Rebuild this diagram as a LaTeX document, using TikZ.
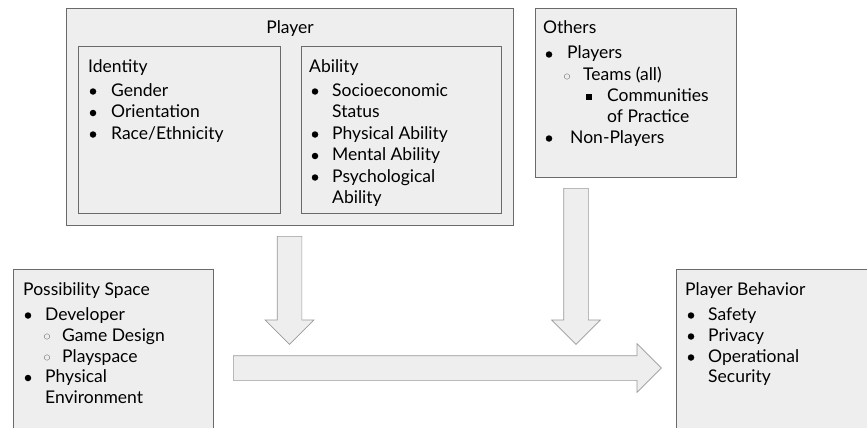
\documentclass[tikz,border=0pt]{standalone}
\usepackage{fontspec}
\setmainfont{Lato}
\usetikzlibrary{shapes.arrows}
\definecolor{boxfill}{HTML}{EEEEEE}
\definecolor{boxline}{HTML}{6A6A6A}
\definecolor{arrowline}{HTML}{999999}
\tikzstyle{panel}=[rectangle, draw=boxline, fill=boxfill, line width=0.8pt, anchor=north west, inner sep=0pt]
\tikzstyle{txt}=[anchor=base west, inner sep=0pt, font=\fontsize{17.5}{21}\selectfont]
\tikzstyle{dot}=[circle, fill=black, inner sep=0pt, minimum size=6.5pt]
\tikzstyle{ring}=[circle, draw=black!55, thin, inner sep=0pt, minimum size=5.5pt]
\tikzstyle{sq}=[rectangle, fill=black, inner sep=0pt, minimum size=6.5pt]
\tikzstyle{blockarrow}=[single arrow, draw=arrowline, fill=boxfill, line width=0.7pt, inner xsep=0pt,
  inner ysep=12pt, single arrow head extend=12pt, single arrow tip angle=90, minimum width=1pt,
  anchor=tail]

\begin{document}
\begin{tikzpicture}[x=1pt, y=-1pt]
  \useasboundingbox (0,0) rectangle (867,428);
  \clip (0,0) rectangle (867,428);
  % boxes
  \node[panel, minimum width=447pt, minimum height=217pt] (player) at (66,8) {};
  \node[panel, minimum width=202pt, minimum height=167pt] (identity) at (78,46) {};
  \node[panel, minimum width=200pt, minimum height=167pt] (ability) at (301,46) {};
  \node[panel, minimum width=201pt, minimum height=169pt] (others) at (535,8) {};
  \node[panel, minimum width=200pt, minimum height=180pt] (possib) at (13,269) {};
  \node[panel, minimum width=210pt, minimum height=180pt] (behav) at (676,269) {};

  % arrows
  \node[blockarrow, rotate=-90, minimum height=108pt] (arrowP) at (289.5,236) {};
  \node[blockarrow, rotate=-90, minimum height=156pt] (arrowO) at (576,188) {};
  \node[blockarrow, minimum height=428pt] (arrowB) at (233,368) {};

  % Player
  \node[txt, anchor=base] (playerT) at (290,34) {Player};
  \node[txt] (identT) at (88,73) {Identity};
  \node[dot] (i1) at (93,91.5) {}; \node[txt] (gender) at (111,96) {Gender};
  \node[dot] (i2) at (93,113) {}; \node[txt] (orient) at (111,117.5) {Orientation};
  \node[dot] (i3) at (93,134.5) {}; \node[txt] (race) at (111,139) {Race/Ethnicity};

  \node[txt] (abilT) at (309,73) {Ability};
  \node[dot] (a1) at (315,91.5) {}; \node[txt] (socio) at (332,96) {Socioeconomic};
  \node[txt] (status) at (332,117.5) {Status};
  \node[dot] (a2) at (315,134.5) {}; \node[txt] (phys) at (332,139) {Physical Ability};
  \node[dot] (a3) at (315,156) {}; \node[txt] (mental) at (332,160.5) {Mental Ability};
  \node[dot] (a4) at (315,177.5) {}; \node[txt] (psych) at (332,182) {Psychological};
  \node[txt] (psych2) at (332,203.5) {Ability};

  % Others
  \node[txt] (othersT) at (543,34) {Others};
  \node[dot] (o1) at (549,54.5) {}; \node[txt] (players) at (567,59) {Players};
  \node[ring] (o2) at (567,76.5) {}; \node[txt] (teams) at (583,81) {Teams (all)};
  \node[sq] (o3) at (589,97) {}; \node[txt] (commun) at (607,101.5) {Communities};
  \node[txt] (commun2) at (607,122) {of Practice};
  \node[dot] (o4) at (549,138.5) {}; \node[txt] (nonpl) at (570,143) {Non-Players};

  % Possibility Space
  \node[txt] (possibT) at (23,295) {Possibility Space};
  \node[dot] (p1) at (28,315.5) {}; \node[txt] (devel) at (45,320) {Developer};
  \node[ring] (p2) at (47,336.5) {}; \node[txt] (design) at (62,341) {Game Design};
  \node[ring] (p3) at (47,357.5) {}; \node[txt] (plays) at (62,362) {Playspace};
  \node[dot] (p4) at (28,378) {}; \node[txt] (physenv) at (45,382.5) {Physical};
  \node[txt] (physenv2) at (45,403.5) {Environment};

  % Player Behavior
  \node[txt] (behavT) at (685,295) {Player Behavior};
  \node[dot] (b1) at (691,315.5) {}; \node[txt] (safety) at (708,320) {Safety};
  \node[dot] (b2) at (691,336.5) {}; \node[txt] (privacy) at (708,341) {Privacy};
  \node[dot] (b3) at (691,357.5) {}; \node[txt] (opsec) at (708,362) {Operational};
  \node[txt] (opsec2) at (708,382.5) {Security};
\end{tikzpicture}
\end{document}
